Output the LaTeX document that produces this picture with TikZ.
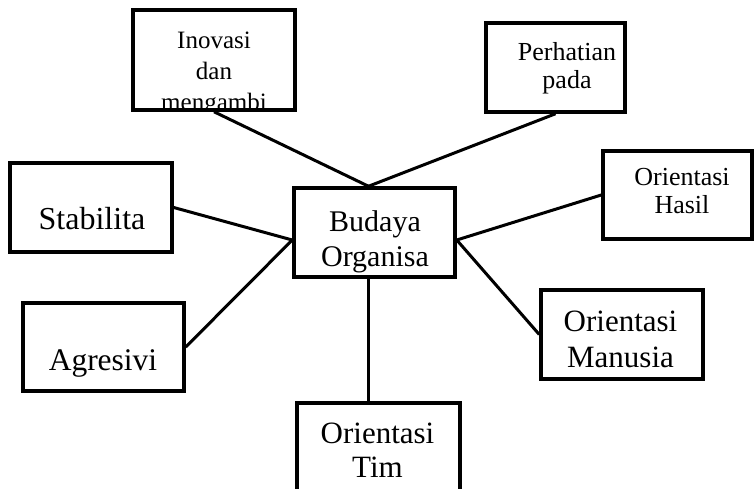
\documentclass[tikz,border=0pt]{standalone}
\usepackage{fontspec}
\setmainfont{Liberation Serif}

\begin{document}
\begin{tikzpicture}[x=1pt,y=-1pt,
    kotak/.style={draw,line width=3.5pt,inner sep=0pt},
    tulisan/.style={align=center,anchor=base,inner sep=0pt},
    garis/.style={line width=3pt}]
  \useasboundingbox (0,0) rectangle (754,488);
  % kotak-kotak
  \node[kotak,minimum width=162pt,minimum height=100pt] (inov) at (214,60) {};
  \node[kotak,minimum width=139pt,minimum height=89pt] (perh) at (555.5,67.5) {};
  \node[kotak,minimum width=161pt,minimum height=89pt] (org) at (374.5,232.5) {};
  \node[kotak,minimum width=149pt,minimum height=88pt] (hasil) at (677.5,195) {};
  \node[kotak,minimum width=162pt,minimum height=89pt] (stab) at (91,207.5) {};
  \node[kotak,minimum width=161pt,minimum height=88pt] (agr) at (103.5,347) {};
  \node[kotak,minimum width=162pt,minimum height=89pt] (man) at (622,334.5) {};
  \node[kotak,minimum width=163pt,minimum height=90pt] (tim) at (378.5,448) {};
  % tulisan, terpotong oleh kotak (titik = garis dasar baris terakhir)
  \begin{scope}
    \clip ([xshift=1.75pt,yshift=1.75pt]inov.south west) rectangle ([xshift=-1.75pt,yshift=-1.75pt]inov.north east);
    \node[tulisan,font=\fontsize{25}{31}\selectfont] (inovT) at (214,110) {Inovasi\\dan\\mengambi};
  \end{scope}
  \begin{scope}
    \clip ([xshift=1.75pt,yshift=1.75pt]perh.south west) rectangle ([xshift=-1.75pt,yshift=-1.75pt]perh.north east);
    \node[tulisan,font=\fontsize{26}{28}\selectfont] (perhT) at (567,88) {Perhatian\\pada};
  \end{scope}
  \begin{scope}
    \clip ([xshift=1.75pt,yshift=1.75pt]org.south west) rectangle ([xshift=-1.75pt,yshift=-1.75pt]org.north east);
    \node[tulisan,font=\fontsize{30}{35}\selectfont] (orgT) at (375,266) {Budaya\\Organisa};
  \end{scope}
  \begin{scope}
    \clip ([xshift=1.75pt,yshift=1.75pt]hasil.south west) rectangle ([xshift=-1.75pt,yshift=-1.75pt]hasil.north east);
    \node[tulisan,font=\fontsize{26}{28}\selectfont] (hasilT) at (682,213) {Orientasi\\Hasil};
  \end{scope}
  \node[tulisan,font=\fontsize{32}{36}\selectfont] (stabT) at (92,229) {Stabilita};
  \node[tulisan,font=\fontsize{31.5}{36}\selectfont] (agrT) at (103,370) {Agresivi};
  \node[tulisan,font=\fontsize{31}{36}\selectfont] (manT) at (620.5,367) {Orientasi\\Manusia};
  \node[tulisan,font=\fontsize{31}{34}\selectfont] (timT) at (377.5,477) {Orientasi\\Tim};
  % garis penghubung
  \draw[garis] (inov.south) -- ([xshift=-6pt]org.north);
  \draw[garis] (perh.south) -- ([xshift=-6pt]org.north);
  \draw[garis] (stab.east) -- ([yshift=-7.5pt]org.west);
  \draw[garis] (agr.east) -- ([yshift=-7.5pt]org.west);
  \draw[garis] ([yshift=-7.5pt]org.east) -- (hasil.west);
  \draw[garis] ([yshift=-7.5pt]org.east) -- (man.west);
  \draw[garis] ([xshift=-6pt]org.south) -- ([xshift=-6pt]org.south |- tim.north);
\end{tikzpicture}
\end{document}
